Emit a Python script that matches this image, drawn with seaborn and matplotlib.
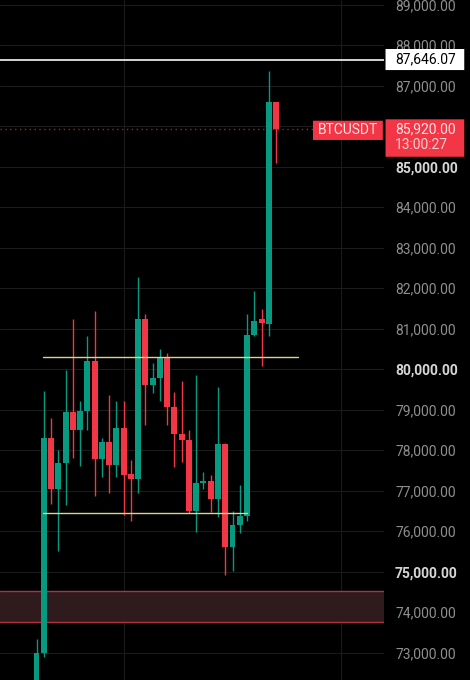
import matplotlib
matplotlib.use("Agg")
from matplotlib import pyplot as plt
from matplotlib import transforms as mtransforms
from matplotlib.patches import FancyBboxPatch
import seaborn as sns
import numpy as np

# OHLC candles
opens = [72000, 72990, 78300, 77030, 77680, 78940, 78490, 78980, 80210, 77790,
         78200, 77640, 78550, 77410, 77300, 81230, 79620, 79790, 80300, 79070,
         78410, 78260, 76500, 77190, 77230, 76790, 78150, 75600, 76160, 76370,
         80840, 81230, 81120, 86590]
closes = [72990, 78300, 77030, 77680, 78940, 78490, 78980, 80210, 77790, 78200,
          77640, 78550, 77400, 77300, 81230, 79620, 79790, 80300, 79070, 78410,
          78260, 76500, 77190, 77230, 76790, 78150, 75600, 76160, 76370, 80840,
          81200, 81140, 86590, 85920]
highs = [73350, 79460, 78800, 78010, 79970, 81230, 79210, 80820, 81430, 78300,
         79360, 79210, 79210, 77750, 82270, 81370, 80160, 80510, 80400, 79440,
         79720, 78510, 79850, 77460, 77400, 79560, 78190, 76510, 77150, 81370,
         81930, 81480, 87370, 86590]
lows = [71800, 72900, 76670, 75520, 76640, 77810, 77600, 78510, 76860, 77330,
        76940, 77350, 76390, 76240, 76940, 78630, 79410, 79210, 78630, 77580,
        77720, 76450, 75990, 77030, 76470, 76340, 74920, 75020, 75950, 76260,
        80830, 80070, 80820, 85100]

price_ticks = [73000, 74000, 75000, 76000, 77000, 78000, 79000, 80000,
               81000, 82000, 83000, 84000, 85000, 86000, 87000, 88000, 89000]
bold_ticks = [75000, 80000, 85000]

range_top = 80300
range_bottom = 76450
zone_low = 73770
zone_high = 74530
high_line = 87646.07
last_price = 85920.00
countdown = "13:00:27"
symbol = "BTCUSDT"

GREEN = "#089981"
RED = "#f23645"

sns.set_theme(style="dark", rc={
    "axes.facecolor": "black",
    "figure.facecolor": "black",
    "axes.edgecolor": "black",
    "grid.color": "#1b1b1b",
})
plt.rcParams["font.family"] = ["Roboto", "DejaVu Sans"]

fig = plt.figure(figsize=(4.7, 6.8), dpi=100)
ax = fig.add_axes([0, 0, 384 / 470, 1])

x = np.arange(len(opens))
o = np.array(opens)
c = np.array(closes)
colors = [GREEN if cc >= oo else RED for oo, cc in zip(o, c)]

# grid
for p in price_ticks:
    ax.axhline(p, color="#1b1b1b", lw=0.8, zorder=0)
for gx in [12, 42]:
    ax.axvline(gx, color="#1b1b1b", lw=0.8, zorder=0)

# support zone
ax.axhspan(zone_low, zone_high, facecolor="#2f1b1d", edgecolor="none", zorder=1)
ax.axhline(zone_high, color="#b3313d", lw=1.0, zorder=1)
ax.axhline(zone_low, color="#b3313d", lw=1.0, zorder=1)

# candles
ax.vlines(x, lows, highs, colors=colors, lw=1.0, zorder=2)
body = np.maximum(np.abs(c - o), 30)
ax.bar(x, body, bottom=np.minimum(o, c), width=0.82, color=colors,
       edgecolor="none", zorder=3)

# range lines
ax.plot([0.9, 36.0], [range_top, range_top], color="#ddd585", lw=1.0, zorder=4)
ax.plot([0.9, 29.0], [range_bottom, range_bottom], color="#ddd585", lw=1.0, zorder=4)

# high line and last price
ax.axhline(high_line, color="#e6e6e6", lw=1.3, zorder=4)
ax.plot([-5.03, 38.1], [last_price, last_price], color="#8c2a33", lw=1.0,
        linestyle=(0, (1, 2.5)), zorder=1)

ax.set_xlim(-5.03, 47.87)
ax.set_ylim(72326, 89116)
ax.set_xticks([])
ax.yaxis.tick_right()
ax.set_yticks(price_ticks)
ax.set_yticklabels([f"{p:,.2f}" for p in price_ticks])
ax.tick_params(axis="y", length=0, pad=8, labelsize=10, labelcolor="#8f8f8f")
for p, lab in zip(price_ticks, ax.get_yticklabels()):
    if p in bold_ticks:
        lab.set_fontweight("bold")
        lab.set_color("#d6d6d6")
ax.grid(False)
sns.despine(ax=ax, left=True, bottom=True, right=True, top=True)

# price label boxes on the right scale
trans = mtransforms.blended_transform_factory(ax.transAxes, ax.transData)
ax.add_patch(FancyBboxPatch((1.004, high_line - 260), 0.205, 520,
                            boxstyle="round,pad=0,rounding_size=0.005",
                            transform=trans, clip_on=False,
                            facecolor="white", edgecolor="none", zorder=5))
ax.text(1.0286, high_line, f"{high_line:,.2f}", transform=trans, ha="left",
        va="center", fontsize=10, color="black", clip_on=False, zorder=6)

ax.add_patch(FancyBboxPatch((1.004, 85245), 0.205, 925,
                            boxstyle="round,pad=0,rounding_size=0.005",
                            transform=trans, clip_on=False,
                            facecolor=RED, edgecolor="none", zorder=5))
ax.text(1.0286, 85935, f"{last_price:,.2f}", transform=trans, ha="left",
        va="center", fontsize=10, color="#ffe4e6", clip_on=False, zorder=6)
ax.text(1.0286, 85525, countdown, transform=trans, ha="left",
        va="center", fontsize=10, color="#ffd0d4", clip_on=False, zorder=6)

ax.add_patch(FancyBboxPatch((0.815, 85660), 0.182, 475,
                            boxstyle="round,pad=0,rounding_size=0.006",
                            transform=trans, clip_on=False,
                            facecolor=RED, edgecolor="none", zorder=5))
ax.text(0.906, 85900, symbol, transform=trans, ha="center",
        va="center", fontsize=10, color="#ffe4e6", zorder=6)

fig.savefig("out.png", dpi=100, facecolor="black")
